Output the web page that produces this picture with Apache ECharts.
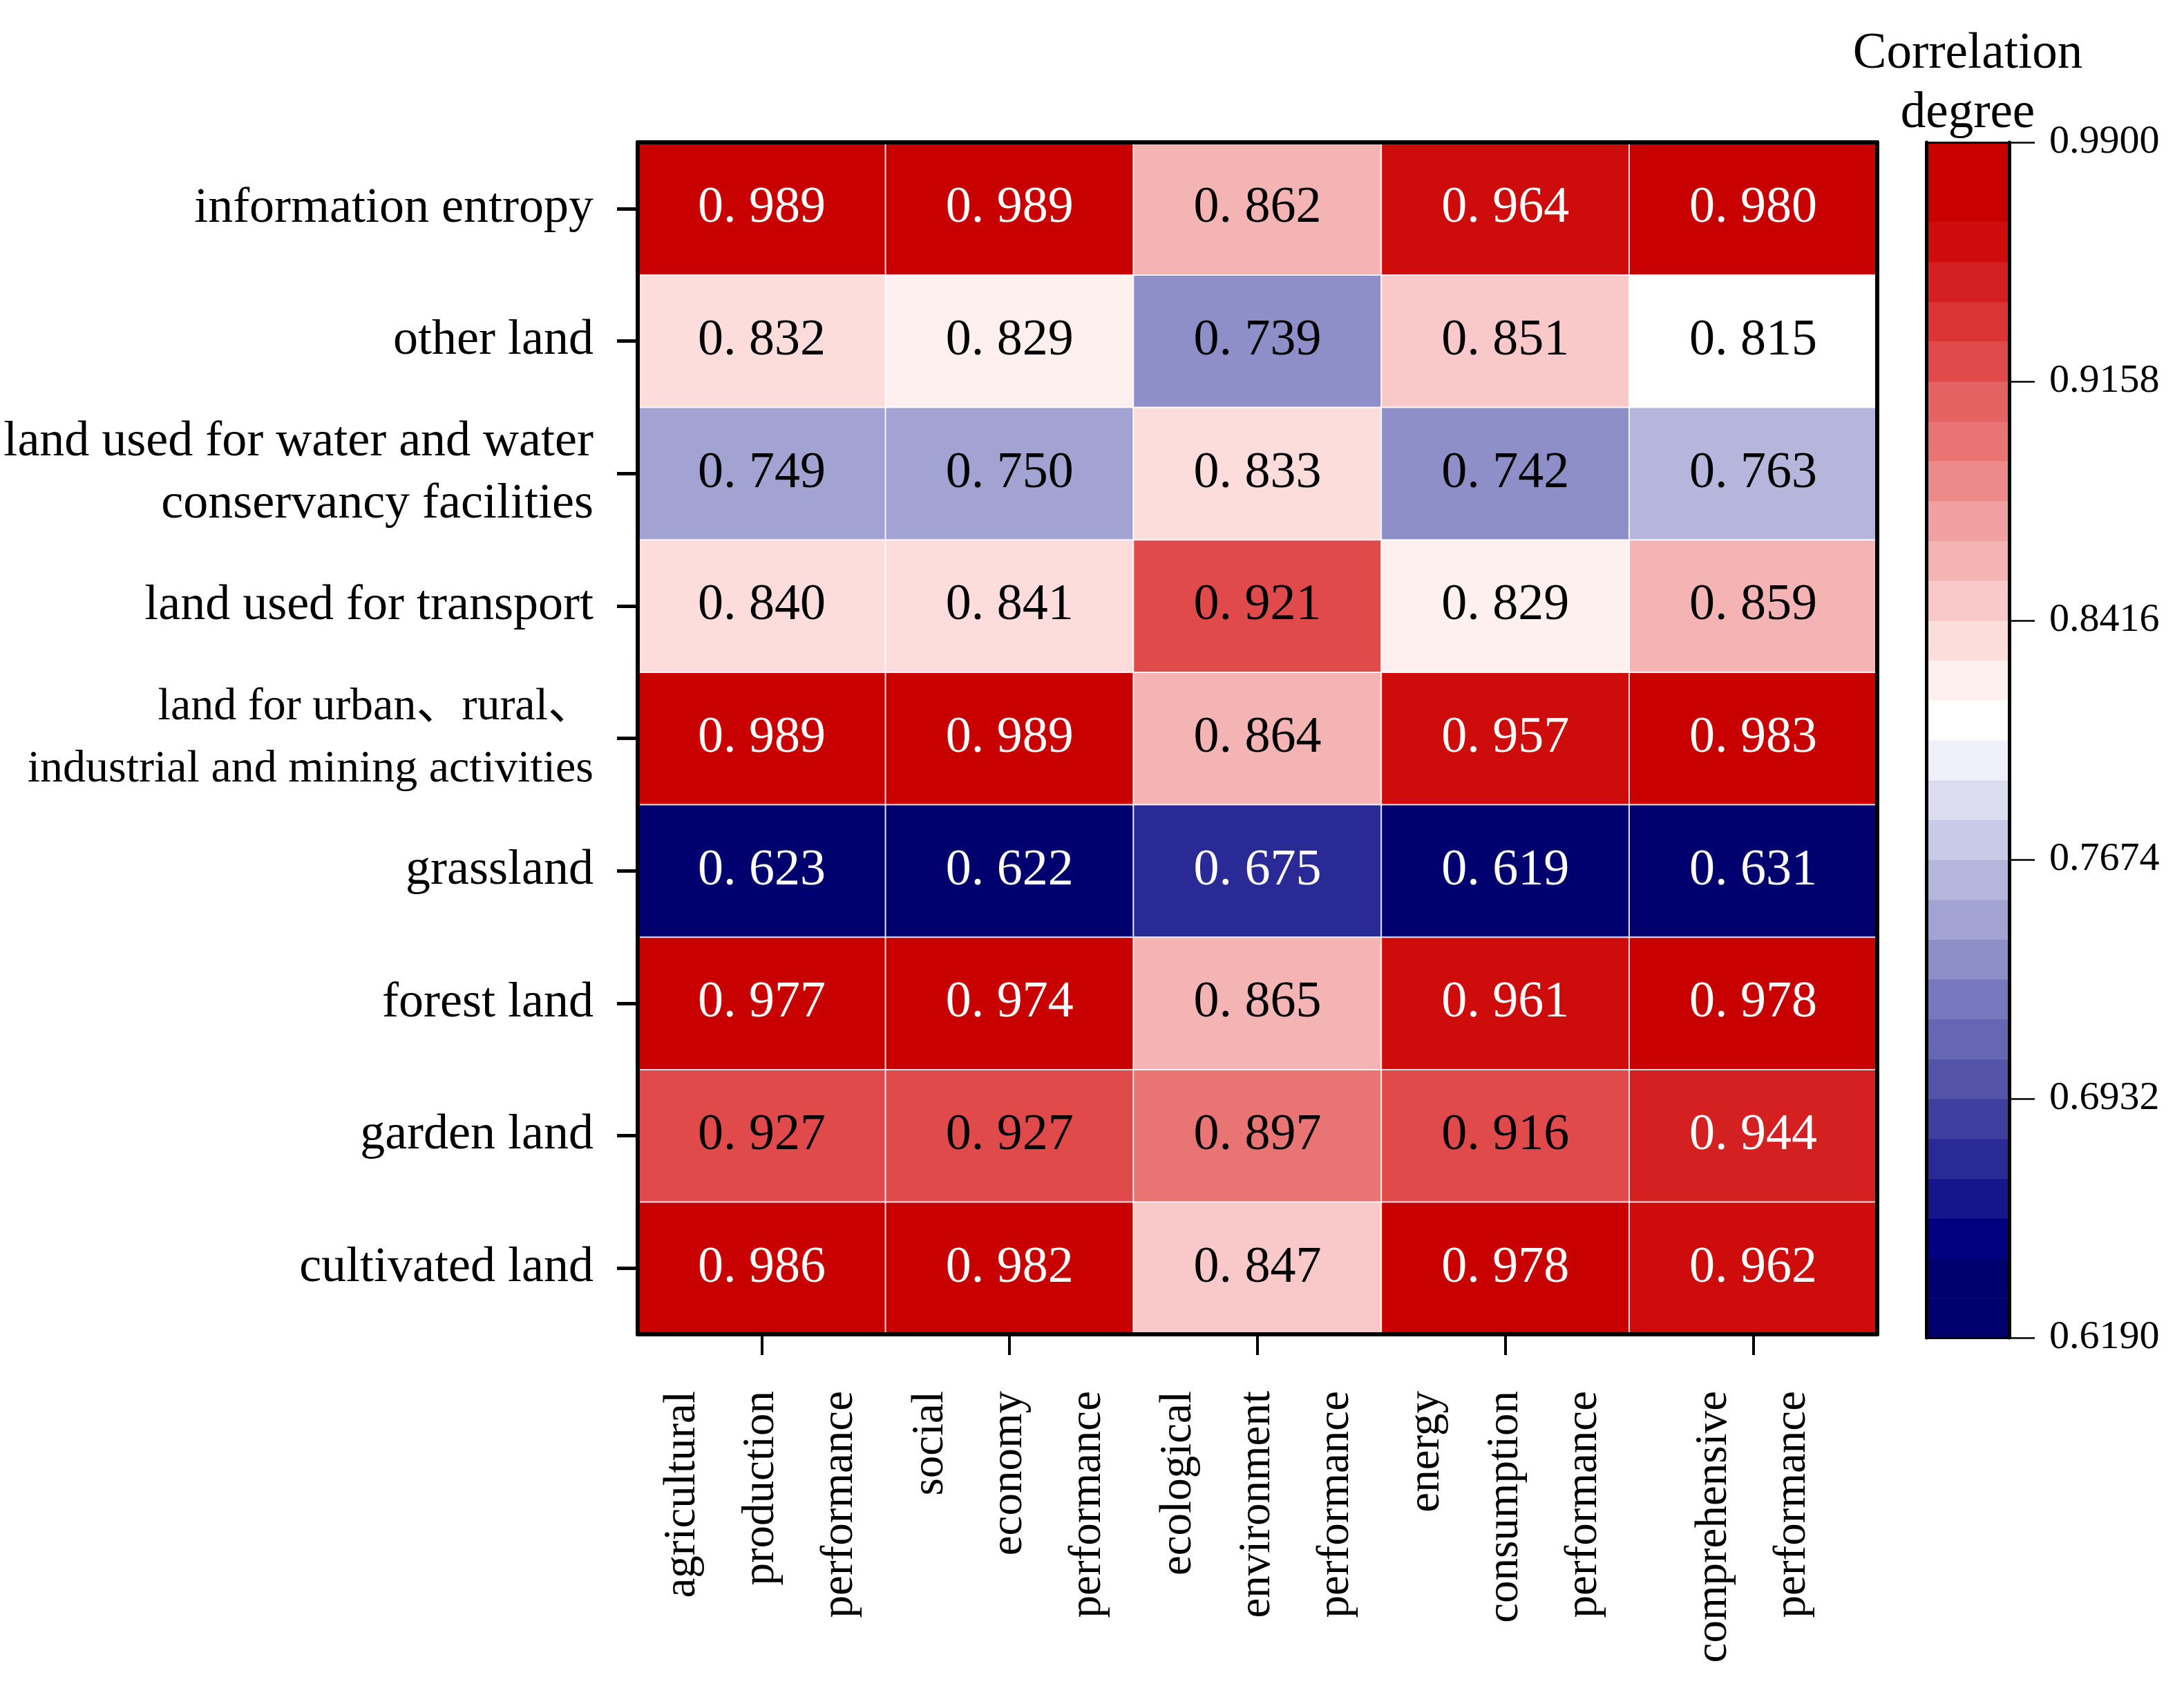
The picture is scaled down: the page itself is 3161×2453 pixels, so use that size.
<!DOCTYPE html>
<html>
<head>
<meta charset="utf-8">
<script src="https://cdn.jsdelivr.net/npm/echarts@6/dist/echarts.min.js"></script>
<style>
html,body{margin:0;padding:0;background:#fff;}
#chart{width:3161px;height:2453px;}
</style>
</head>
<body>
<div id="chart"></div>
<script>
// ---------- data ----------
const xCategories = [
  'agricultural\nproduction\nperformance',
  'social\neconomy\nperformance',
  'ecological\nenvironment\nperformance',
  'energy\nconsumption\nperformance',
  'comprehensive\nperformance'
];
// bottom -> top
const yCategories = [
  'cultivated land',
  'garden land',
  'forest land',
  'grassland',
  'land for urban\u3001rural\u3001\nindustrial and mining activities',
  'land used for transport',
  'land used for water and water\nconservancy facilities',
  'other land',
  'information entropy'
];
// rows listed bottom -> top, columns in xCategories order
const cultivatedLand   = [0.986, 0.982, 0.847, 0.978, 0.962];
const gardenLand       = [0.927, 0.927, 0.897, 0.916, 0.944];
const forestLand       = [0.977, 0.974, 0.865, 0.961, 0.978];
const grassland        = [0.623, 0.622, 0.675, 0.619, 0.631];
const urbanLand        = [0.989, 0.989, 0.864, 0.957, 0.983];
const transportLand    = [0.840, 0.841, 0.921, 0.829, 0.859];
const waterLand        = [0.749, 0.750, 0.833, 0.742, 0.763];
const otherLand        = [0.832, 0.829, 0.739, 0.851, 0.815];
const informationEntropy = [0.989, 0.989, 0.862, 0.964, 0.980];
const rows = [cultivatedLand, gardenLand, forestLand, grassland, urbanLand,
              transportLand, waterLand, otherLand, informationEntropy];

const scaleMin = 0.619;
const scaleMax = 0.99;
const scaleInterval = 0.0742;
const levelCount = 30;
// colour levels, bottom (low) -> top (high)
const levelColors = [
  '#00006f','#00006f','#000080','#15158c','#2a2a96','#3f3fa0','#5353aa','#6666b4',
  '#7878be','#8e8ec8','#a2a2d3','#b6b6dd','#c9c9e8','#dcdcf1','#f0f0fa','#ffffff',
  '#fff0f0','#fddcdc','#f9c8c8','#f4b4b4','#f0a0a0','#ec8a8a','#e87474','#e46262',
  '#e04a4a','#da3434','#d42020','#cf0c0c','#c80000','#c80000'
];

// ---------- build ----------
const FONT = "'Liberation Serif','Times New Roman','Noto Sans CJK SC',serif";
const step = (scaleMax - scaleMin) / levelCount;
function levelOf(v){ return Math.max(0, Math.min(levelCount-1, Math.floor((v - scaleMin)/step + 1e-9))); }

const heatData = [];
rows.forEach((row, yi) => {
  row.forEach((v, xi) => {
    const lv = levelOf(v);
    const light = lv >= 25 || lv <= 5;
    heatData.push({ value: [xi, yi, v], label: { color: light ? '#ffffff' : '#000000' } });
  });
});

const bandData = [];
for (let i = 0; i < levelCount; i++) {
  bandData.push([scaleMin + i*step, scaleMin + (i+1)*step, i]);
}

function yLabelFormatter(value) {
  if (value.indexOf('land for urban') === 0) {
    return value.split('\n').map(s => '{s|' + s + '}').join('\n');
  }
  return value;
}

const chart = echarts.init(document.getElementById('chart'), null, {renderer:'canvas'});
const option = {
  backgroundColor: '#ffffff',
  animation: false,
  grid: [
    { left: 923, top: 206, width: 1794, height: 1725, containLabel: false },
    { left: 2788, top: 206, width: 120, height: 1730, containLabel: false }
  ],
  xAxis: [
    { type: 'category', gridIndex: 0, data: xCategories, position: 'bottom', z: 5,
      axisLine: { onZero: false, lineStyle: { color: '#000', width: 6 } },
      axisTick: { show: true, alignWithLabel: true, length: 30, lineStyle: { color: '#000', width: 4 } },
      axisLabel: { interval: 0, rotate: 90, margin: 82, fontSize: 65, lineHeight: 114,
                   fontFamily: FONT, color: '#000' },
      splitLine: { show: false } },
    { type: 'category', gridIndex: 0, data: xCategories, position: 'top', z: 5,
      axisLine: { onZero: false, lineStyle: { color: '#000', width: 6 } },
      axisTick: { show: false }, axisLabel: { show: false } },
    { type: 'value', gridIndex: 1, min: 0, max: 1, position: 'bottom', z: 5,
      axisLine: { show: true, onZero: false, lineStyle: { color: '#000', width: 3 } },
      axisTick: { show: false }, axisLabel: { show: false }, splitLine: { show: false } },
    { type: 'value', gridIndex: 1, min: 0, max: 1, position: 'top', z: 5,
      axisLine: { show: true, onZero: false, lineStyle: { color: '#000', width: 3 } },
      axisTick: { show: false }, axisLabel: { show: false }, splitLine: { show: false } }
  ],
  yAxis: [
    { type: 'category', gridIndex: 0, data: yCategories, position: 'left', z: 5,
      axisLine: { onZero: false, lineStyle: { color: '#000', width: 6 } },
      axisTick: { show: true, alignWithLabel: true, length: 30, lineStyle: { color: '#000', width: 5 } },
      axisLabel: { interval: 0, margin: 64, fontSize: 72, lineHeight: 90,
                   fontFamily: FONT, color: '#000', align: 'right',
                   formatter: yLabelFormatter,
                   rich: { s: { fontSize: 66, lineHeight: 90, fontFamily: FONT, color: '#000' } } },
      splitLine: { show: false } },
    { type: 'category', gridIndex: 0, data: yCategories, position: 'right', z: 5,
      axisLine: { onZero: false, lineStyle: { color: '#000', width: 6 } },
      axisTick: { show: false }, axisLabel: { show: false } },
    { type: 'value', gridIndex: 1, min: scaleMin, max: scaleMax, interval: scaleInterval,
      position: 'right', z: 5,
      axisLine: { show: true, onZero: false, lineStyle: { color: '#000', width: 5 } },
      axisTick: { show: true, inside: false, length: 37, lineStyle: { color: '#000', width: 2.5 } },
      axisLabel: { margin: 58, fontSize: 58, fontFamily: FONT, color: '#000',
                   formatter: v => v.toFixed(4) },
      splitLine: { show: false } },
    { type: 'value', gridIndex: 1, min: scaleMin, max: scaleMax, position: 'left', z: 5,
      axisLine: { show: true, onZero: false, lineStyle: { color: '#000', width: 5 } },
      axisTick: { show: false }, axisLabel: { show: false }, splitLine: { show: false } }
  ],
  visualMap: {
    type: 'piecewise', show: false, seriesIndex: 0, dimension: 2,
    min: scaleMin, max: scaleMax, splitNumber: levelCount,
    inRange: { color: levelColors }
  },
  series: [
    { type: 'heatmap', xAxisIndex: 0, yAxisIndex: 0, data: heatData,
      itemStyle: { borderColor: 'rgba(255,255,255,0.85)', borderWidth: 2 },
      label: { show: true, fontSize: 74, fontFamily: FONT,
               formatter: p => p.value[2].toFixed(3).replace('.', '. ') },
      emphasis: { disabled: true } },
    { type: 'custom', xAxisIndex: 2, yAxisIndex: 2, data: bandData, silent: true,
      renderItem: function (params, api) {
        const lo = api.value(0), hi = api.value(1), idx = api.value(2);
        const p1 = api.coord([0, hi]);
        const p2 = api.coord([1, lo]);
        return { type: 'rect',
                 shape: { x: p1[0], y: p1[1], width: p2[0]-p1[0], height: p2[1]-p1[1] + 0.5 },
                 style: { fill: levelColors[idx] } };
      } }
  ],
  graphic: [
    { type: 'text', x: 2848, y: 36, z: 10,
      style: { text: 'Correlation\ndegree', fill: '#000', font: "73px 'Liberation Serif'",
               textAlign: 'center', verticalAlign: 'top', lineHeight: 86 } }
  ]
};
chart.setOption(option);
</script>
</body>
</html>
